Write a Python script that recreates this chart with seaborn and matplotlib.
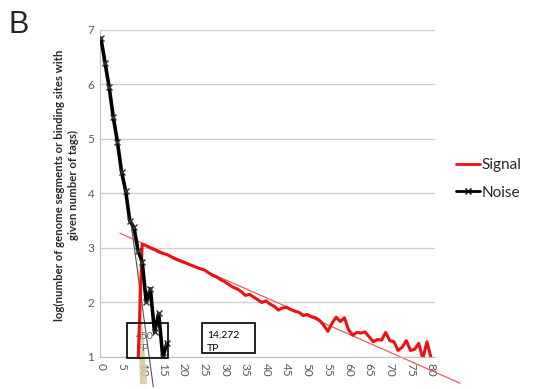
import numpy as np
import pandas as pd
import seaborn as sns
import matplotlib.pyplot as plt
from matplotlib.patches import Rectangle
from matplotlib.lines import Line2D

# valores
noise_x = list(range(0, 17))
noise_y = [6.85, 6.4, 5.95, 5.4, 4.95, 4.4, 4.05, 3.5, 3.38, 2.95,
           2.75, 2.0, 2.25, 1.45, 1.8, 1.0, 1.25]

signal_x = list(range(9, 81))
signal_y = [0.9, 3.07, 3.04, 3.0, 2.97, 2.93, 2.9, 2.88, 2.84, 2.8,
            2.77, 2.74, 2.71, 2.68, 2.65, 2.62, 2.6, 2.55, 2.5, 2.47,
            2.42, 2.38, 2.33, 2.28, 2.25, 2.2, 2.13, 2.15, 2.1, 2.05,
            2.0, 2.03, 1.97, 1.93, 1.86, 1.9, 1.91, 1.87, 1.84, 1.82,
            1.76, 1.78, 1.74, 1.72, 1.67, 1.58, 1.47, 1.62, 1.73, 1.65,
            1.72, 1.5, 1.4, 1.45, 1.44, 1.46, 1.37, 1.28, 1.32, 1.31,
            1.45, 1.3, 1.28, 1.12, 1.18, 1.3, 1.12, 1.14, 1.25, 0.97,
            1.28, 0.98]

# lineas de tendencia (x inicio, x fin, y inicio, y fin)
signal_trend_x = [4.6, 87.0]
signal_trend_y = [3.27, 0.52]
noise_trend_x = [7.3, 12.7]
noise_trend_y = [3.45, 0.45]

# zona sombreada (FP)
fp_x = [8.8, 9.45, 11.2]
fp_y = [2.9, 0.5, 0.5]

y_ticks = [1, 2, 3, 4, 5, 6, 7]
x_ticks = list(range(0, 81, 5))

df_signal = pd.DataFrame({"x": signal_x, "y": signal_y})
df_noise = pd.DataFrame({"x": noise_x, "y": noise_y})

sns.set_style("white")
plt.rcParams['font.family'] = ['Lato', 'DejaVu Sans']

fig = plt.figure(figsize=(5.34, 3.89), dpi=100)
ax = fig.add_axes([0.187, 0.0823, 0.628, 0.8407])

ax.fill(fp_x, fp_y, color="#d6c79a", alpha=0.85, lw=0, clip_on=False, zorder=1)
ax.plot(noise_trend_x, noise_trend_y, color="#555555", lw=0.8, clip_on=False, zorder=2)
ax.plot(signal_trend_x, signal_trend_y, color="#e06060", lw=0.9, clip_on=False, zorder=2)

sns.lineplot(data=df_signal, x="x", y="y", color="#ee1111", linewidth=2.2, ax=ax, zorder=3)
sns.lineplot(data=df_noise, x="x", y="y", color="black", linewidth=2.6,
             marker="x", markersize=5, markeredgewidth=1.0, markeredgecolor="#333333",
             ax=ax, zorder=4)

# cajas de texto
ax.add_patch(Rectangle((6.3, 0.98), 9.9, 0.64, fill=False, ec="black", lw=1.2, clip_on=False, zorder=5))
ax.text(8.6, 1.38, "450", fontsize=7.5, color="#666666", va="center", zorder=2)
ax.text(8.6, 1.15, "FP", fontsize=7.5, color="#666666", va="center", zorder=2)
ax.add_patch(Rectangle((24.5, 1.07), 12.8, 0.55, fill=False, ec="black", lw=1.2, clip_on=False, zorder=5))
ax.text(25.7, 1.40, "14,272", fontsize=7.5, color="black", va="center")
ax.text(25.7, 1.16, "TP", fontsize=7.5, color="black", va="center")

ax.set_xlim(-0.25, 81)
ax.set_ylim(1, 7)
ax.set_yticks(y_ticks)
ax.set_xticks(x_ticks)
ax.set_xticklabels([str(v) for v in x_ticks], rotation=-90)
ax.tick_params(axis="both", labelsize=8.5, colors="#595959", length=0, pad=4)
ax.grid(axis="y", color="#d0d0d0", lw=1.0)
ax.grid(axis="x", visible=False)
for s in ["top", "right"]:
    ax.spines[s].set_visible(False)
ax.spines["left"].set_color("#c0c0c0")
ax.spines["bottom"].set_color("#c0c0c0")
ax.set_xlabel("")
ax.set_ylabel("")

# etiqueta del eje y (dos lineas centradas)
fig.text(0.124, 0.524, "log(number of genome segments or binding sites with\ngiven number of tags)",
         rotation=90, ha="center", va="center", multialignment="center",
         fontsize=8.2, fontweight="bold", color="#2a2a2a", linespacing=1.35)

handles = [Line2D([], [], color="#ee1111", lw=2),
           Line2D([], [], color="black", lw=2, marker="x", markersize=5)]
ax.legend(handles, ["Signal", "Noise"], loc="center left", bbox_to_anchor=(1.02, 0.545),
          frameon=False, fontsize=11, handlelength=1.6, handletextpad=0.1, labelspacing=0.9)

fig.text(0.015, 0.975, "B", fontsize=22, family="Liberation Sans", va="top", ha="left")

plt.savefig("out.png", dpi=100)
